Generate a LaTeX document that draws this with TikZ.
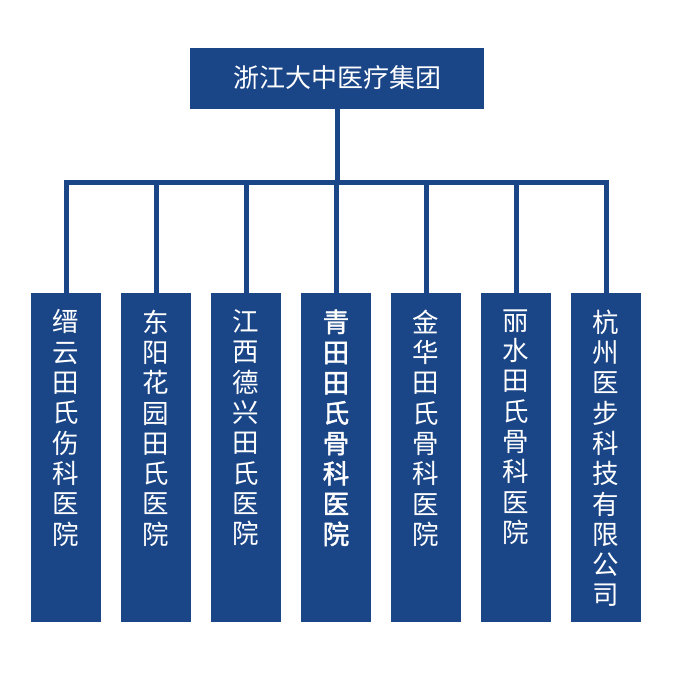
\documentclass[tikz,border=0pt]{standalone}
\usepackage{fontspec}
\newfontfamily\cjk{Noto Sans CJK SC}
\newfontfamily\cjkthick[FakeBold=1.6]{Noto Sans CJK SC}
\usepackage{tikz}
\usetikzlibrary{positioning}
\definecolor{groupblue}{RGB}{26,69,135}

\begin{document}
\begin{tikzpicture}[
    x=1pt, y=-1pt,
    topbox/.style={fill=groupblue, text=white, minimum width=294pt, minimum height=61pt,
        inner sep=0pt, font=\cjk\fontsize{26pt}{30pt}\selectfont},
    unitbox/.style={fill=groupblue, minimum width=70pt, minimum height=329pt,
        inner sep=0pt, anchor=north},
    unittext/.style={text=white, align=center, inner sep=0pt, anchor=north,
        font=\cjk\fontsize{26.5pt}{30.3pt}\selectfont},
    plainname/.style={},
    boldname/.style={font=\cjkthick\fontsize{26.5pt}{30.3pt}\selectfont},
    link/.style={draw=groupblue, line width=5pt}
]
\useasboundingbox (0,0) rectangle (678,680);

% 集团总部
\node[topbox] (group) at (337,78) {浙江大中医疗集团};

% 横向连线的位置
\coordinate (bar) at (0,182.5);

% 绘制下属单位
\foreach \txt/\wt [count=\i] in {
    {缙\\云\\田\\氏\\伤\\科\\医\\院}/plainname,
    {东\\阳\\花\\园\\田\\氏\\医\\院}/plainname,
    {江\\西\\德\\兴\\田\\氏\\医\\院}/plainname,
    {青\\田\\田\\氏\\骨\\科\\医\\院}/boldname,
    {金\\华\\田\\氏\\骨\\科\\医\\院}/plainname,
    {丽\\水\\田\\氏\\骨\\科\\医\\院}/plainname,
    {杭\\州\\医\\步\\科\\技\\有\\限\\公\\司}/plainname} {
    \node[unitbox] (unit\i) at (90*\i-24,293) {};
    \node[unittext, \wt] (name\i) at (90*\i-24,309.5) {\txt};
}

% 连线:总部 -> 横线 -> 各单位
\draw[link] (group.south) -- (group.south |- bar);
\draw[link] (unit1.north) |- (bar -| unit7.north) -- (unit7.north);
\foreach \i in {2,...,6} {
    \draw[link] (unit\i.north) -- (unit\i.north |- bar);
}

\end{tikzpicture}
\end{document}
